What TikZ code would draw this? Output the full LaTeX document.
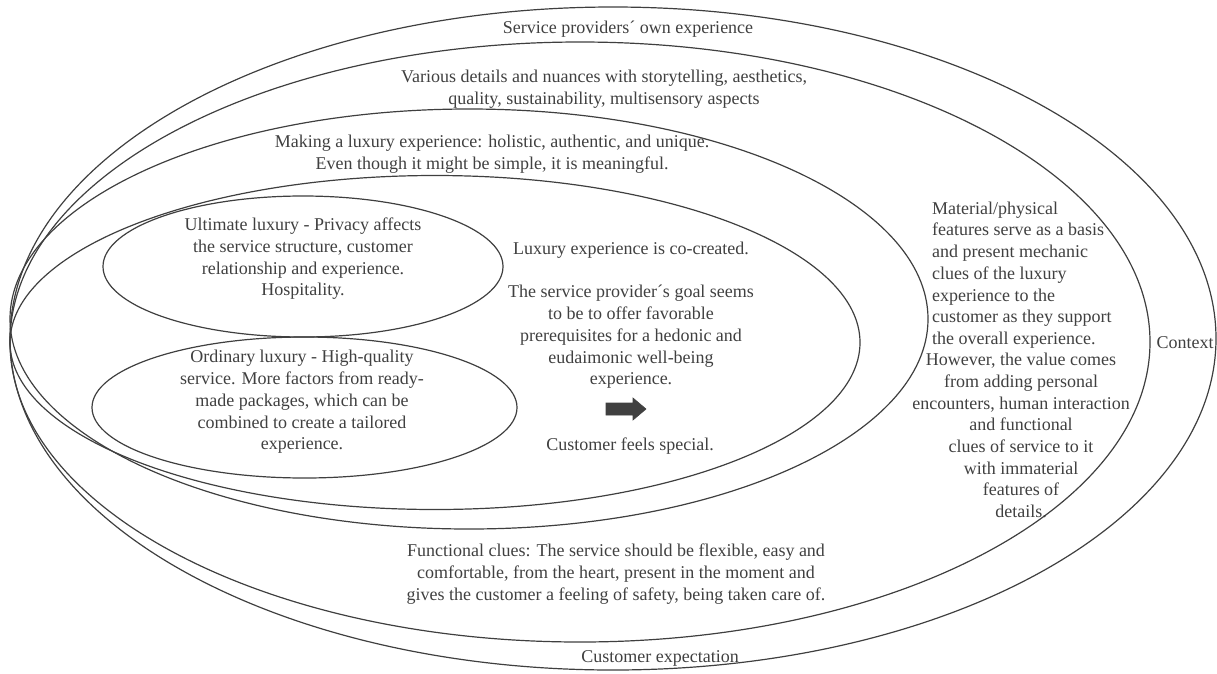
\documentclass[tikz,border=0pt]{standalone}
\usepackage{fontspec}
\setmainfont{Liberation Serif}
\usetikzlibrary{calc}
\definecolor{RingGray}{HTML}{3F3F3F}
\definecolor{TextGray}{HTML}{404040}

\begin{document}
\begin{tikzpicture}[x=1pt,y=1pt,
        ring/.style={draw=RingGray,line width=1.2pt},
        lbl/.style={text=TextGray,align=center,inner sep=0pt,font=\fontsize{18}{21.7}\selectfont}]
        \useasboundingbox (0,0) rectangle (1217,-673);
        \foreach \cx/\cy/\rx/\ry in {613/338.5/603/331.5, 580/342/570/300, 469/319/459/210, 435/342.5/425/167, 303/266.5/200/70.5, 304.5/407.5/212.5/70.5}
        {
            \draw[ring] (\cx,-\cy) ellipse [x radius=\rx pt, y radius=\ry pt];
        }

        \node[lbl] (own) at (628,-29) {Service providers´ own experience};
        \node[lbl] (details) at (604,-89) {Various details and nuances with storytelling, aesthetics,\\ quality, sustainability, multisensory aspects};
        \node[lbl] (making) at (492,-154) {Making a luxury experience: holistic, authentic, and unique.\\ Even though it might be simple, it is meaningful.};
        \node[lbl] (ultimate) at (303,-259) {Ultimate luxury - Privacy affects\\ the service structure, customer\\ relationship and experience.\\ Hospitality.};
        \node[lbl] (ordinary) at (302,-402) {Ordinary luxury - High-quality\\ service. More factors from ready-\\ made packages, which can be\\ combined to create a tailored\\ experience.};
        \node[lbl] (cocreated) at (631,-250) {Luxury experience is co-created.};
        \node[lbl] (goal) at (631,-337) {The service provider´s goal seems\\ to be to offer favorable\\ prerequisites for a hedonic and\\ eudaimonic well-being\\ experience.};
        \filldraw[fill=TextGray,draw=TextGray,line width=.6pt] (606,-403) -- (633,-403) -- (633,-398) -- (646,-409) -- (633,-420) -- (633,-415) -- (606,-415) -- cycle;
        \node[lbl] (special) at (630,-446) {Customer feels special.};
        \node[lbl,align=left,anchor=west] (material) at (932,-275) {Material/physical\\ features serve as a basis\\ and present mechanic\\ clues of the luxury\\ experience to the\\ customer as they support\\ the overall experience.};
        \node[lbl] (value) at (1021,-435.5) {However, the value comes\\ from adding personal\\ encounters, human interaction\\ and functional\\ clues of service to it\\ with immaterial\\ features of\\ details.};
        \node[lbl] (context) at (1185,-343) {Context};
        \node[lbl] (functional) at (616,-574) {Functional clues: The service should be flexible, easy and\\ comfortable, from the heart, present in the moment and\\ gives the customer a feeling of safety, being taken care of.};
        \node[lbl] (expectation) at (660,-658) {Customer expectation};
\end{tikzpicture}
\end{document}
